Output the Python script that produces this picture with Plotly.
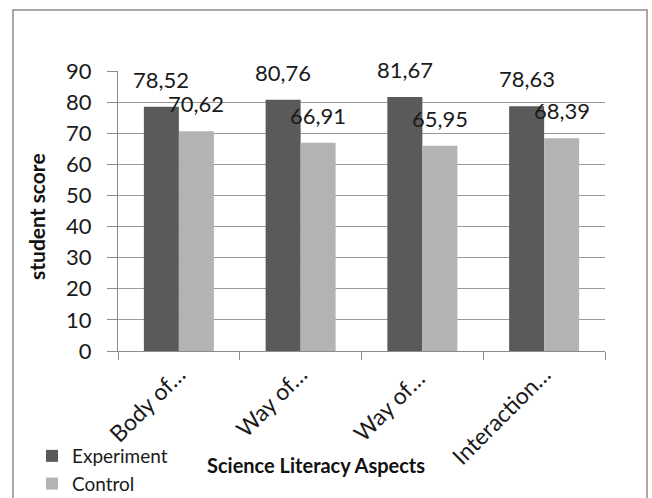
import plotly.graph_objects as go

# Science literacy aspect scores (comma shown as decimal separator)
aspects = ["Body of…", "Way of…", "Way of… ", "Interaction…"]
experiment = [78.52, 80.76, 81.67, 78.63]
control = [70.62, 66.91, 65.95, 68.39]
y_ticks = [0, 10, 20, 30, 40, 50, 60, 70, 80, 90]

EXP_COLOR = "#5a5a5a"
CTRL_COLOR = "#b3b3b3"
FONT = "Lato"

# plot area in pixels
L, R, T, B = 118, 605, 71, 351
W, H = R - L, B - T


def fmt(v):
    return f"{v:.2f}".replace(".", ",")


fig = go.Figure()
fig.add_trace(go.Bar(name="Experiment", x=aspects, y=experiment, legendgroup="e",
                     marker=dict(color=EXP_COLOR, line=dict(width=0))))
fig.add_trace(go.Bar(name="Control", x=aspects, y=control, legendgroup="c",
                     marker=dict(color=CTRL_COLOR, line=dict(width=0))))

# value labels above each bar
annotations = []
for cat, e, c in zip(aspects, experiment, control):
    annotations.append(dict(x=cat, y=e, xref="x", yref="y", text=fmt(e),
                            showarrow=False, xshift=-17.5, yshift=12,
                            yanchor="bottom",
                            font=dict(family=FONT, size=22, color="#1a1a1a")))
    annotations.append(dict(x=cat, y=c, xref="x", yref="y", text=fmt(c),
                            showarrow=False, xshift=17.5, yshift=12,
                            yanchor="bottom",
                            font=dict(family=FONT, size=22, color="#1a1a1a")))

# axis titles
annotations.append(dict(xref="x domain", yref="y domain",
                        x=(316 - L) / W, y=(B - 465) / H,
                        xanchor="center", yanchor="middle",
                        text="<b>Science Literacy Aspects</b>", showarrow=False,
                        font=dict(family=FONT, size=20, color="#111")))
annotations.append(dict(xref="x domain", yref="y domain",
                        x=(37 - L) / W, y=(B - 217) / H,
                        xanchor="center", yanchor="middle", textangle=-90,
                        text="<b>student score</b>", showarrow=False,
                        font=dict(family=FONT, size=21, color="#111")))

fig.update_layout(
    width=652, height=498,
    margin=dict(l=L, r=652 - R, t=T, b=498 - B, autoexpand=False),
    paper_bgcolor="white", plot_bgcolor="white",
    barmode="group", bargap=0.425, bargroupgap=0,
    font=dict(family=FONT, color="#1a1a1a"),
    showlegend=True,
    legend=dict(xref="container", yref="container",
                x=32 / 652, y=1 - 437 / 498, xanchor="left", yanchor="top",
                font=dict(family=FONT, size=19, color="#1a1a1a"),
                traceorder="grouped", itemwidth=30, tracegroupgap=0,
                bgcolor="rgba(0,0,0,0)"),
    annotations=annotations,
    shapes=[dict(type="rect", xref="x domain", yref="y domain",
                 x0=(13 - L) / W, x1=(647 - L) / W,
                 y0=(B - 510) / H, y1=1 + (T - 10) / H,
                 line=dict(color="#8c8c8c", width=1.5), layer="below")],
)

fig.update_xaxes(
    showline=True, linecolor="#8c8c8c", linewidth=1,
    ticks="outside", tickson="boundaries", ticklen=8, tickcolor="#8c8c8c",
    tickangle=-45, tickfont=dict(family=FONT, size=23, color="#1a1a1a"),
    showgrid=False,
)
fig.update_yaxes(
    range=[0, 90], tickvals=y_ticks,
    showline=True, linecolor="#8c8c8c", linewidth=1,
    ticks="outside", ticklen=10, tickcolor="#8c8c8c",
    showgrid=True, gridcolor="#9a9a9a", gridwidth=1, zeroline=False,
    tickfont=dict(family=FONT, size=22, color="#1a1a1a"),
    ticklabelstandoff=11,
)

fig.write_html("out.html")
